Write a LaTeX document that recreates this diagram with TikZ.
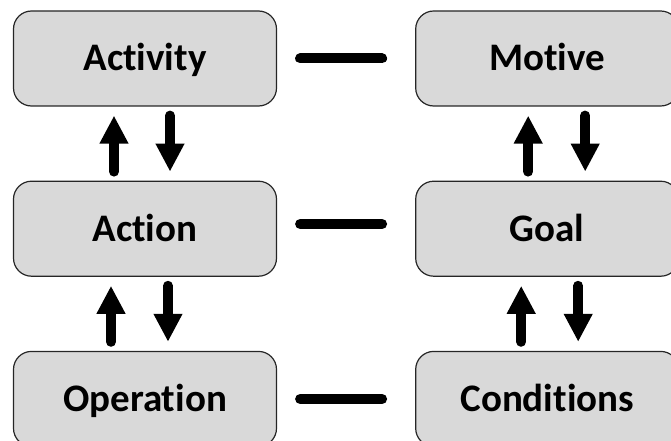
\documentclass[tikz,border=0pt]{standalone}
\usepackage{fontspec}
\setmainfont{Carlito}[Ligatures=NoCommon,RawFeature=-liga]
\usetikzlibrary{arrows.meta,positioning}
\definecolor{boxgray}{HTML}{D9D9D9}

\begin{document}
\begin{tikzpicture}[x=1pt,y=-1pt,node distance=74pt,>={Triangle[width=27pt,length=28pt]},
  level/.style={draw=black!85,line width=1.2pt,fill=boxgray,rounded corners=18pt,minimum width=263pt,minimum height=95pt,inner sep=0pt,text height=25pt,text depth=0pt,font=\fontsize{39}{44}\selectfont\bfseries},
  flow/.style={->,line width=10pt,line cap=round,shorten >=9pt,shorten <=9pt},
  link/.style={line width=10pt,line cap=round,shorten <=23pt,shorten >=33pt}]
\clip (0,0) rectangle (671,441);
\useasboundingbox (0,0) rectangle (671,441);
\node [level] at (145,58.5) (act) {Activity};
\node [level,below=of act] (action) {Action};
\node [level,below=of action] (op) {Operation};
\node [level,right=138pt of act] (mot) {Motive};
\node [level,right=138pt of action] (goal) {Goal};
\node [level,right=138pt of op] (cond) {Conditions};
% left column
\draw [flow] ([xshift=-31pt]action.north) -- ([xshift=-31pt]act.south);
\draw [flow] ([xshift=25pt]act.south) -- ([xshift=25pt]action.north);
\draw [flow] ([xshift=-34pt]op.north) -- ([xshift=-34pt]action.south);
\draw [flow] ([xshift=23pt]action.south) -- ([xshift=23pt]op.north);
% right column
\draw [flow] ([xshift=-19pt]goal.north) -- ([xshift=-19pt]mot.south);
\draw [flow] ([xshift=38pt]mot.south) -- ([xshift=38pt]goal.north);
\draw [flow] ([xshift=-26pt]cond.north) -- ([xshift=-26pt]goal.south);
\draw [flow] ([xshift=31pt]goal.south) -- ([xshift=31pt]cond.north);
% links
\draw [link] (act) -- (mot);
\draw [link] (action.east |- 0,224) -- (goal.west |- 0,224);
\draw [link] (op.east |- 0,399) -- (cond.west |- 0,399);
\end{tikzpicture}
\end{document}
